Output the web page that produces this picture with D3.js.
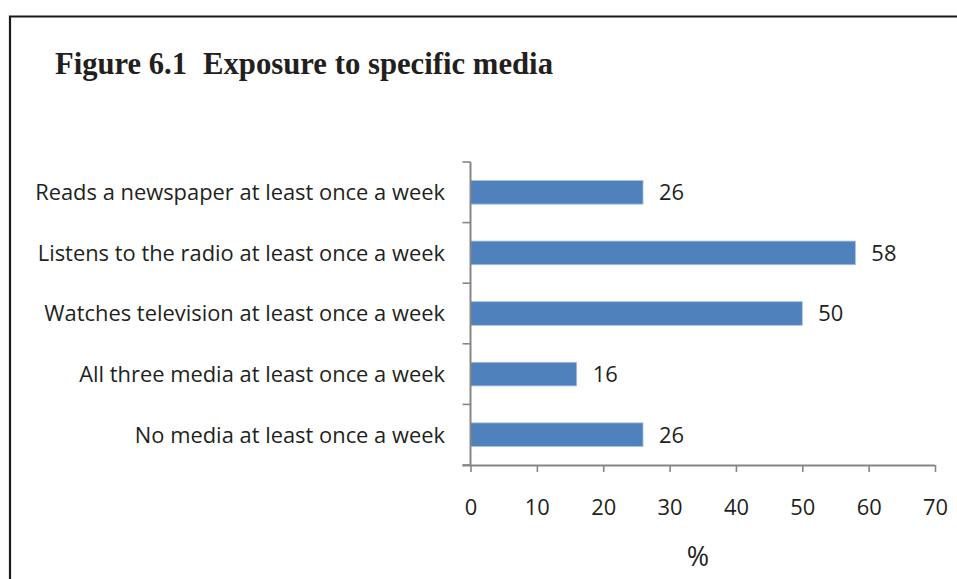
<!DOCTYPE html>
<html>
<head>
<meta charset="utf-8">
<script src="https://cdn.jsdelivr.net/npm/d3@7"></script>
<style>
  html, body { margin: 0; padding: 0; background: #fff; }
  svg { display: block; }
</style>
</head>
<body>
<svg id="chart" width="957" height="579"></svg>
<script>
// Media exposure categories (top to bottom) and share of respondents, %
const categories = [
  "Reads a newspaper at least once a week",
  "Listens to the radio at least once a week",
  "Watches television at least once a week",
  "All three media at least once a week",
  "No media at least once a week"
];
const values = [26, 58, 50, 16, 26];
const xTicks = [0, 10, 20, 30, 40, 50, 60, 70];

const svg = d3.select("#chart");
const labelFont = "'Open Sans', 'Noto Sans', sans-serif";
const labelSize = 21.9;
const textColor = "#231f20";
const axisColor = "#868686";

// Frame around the figure
svg.append("path")
  .attr("d", "M10,579 V16.5 H957")
  .attr("fill", "none")
  .attr("stroke", "#1a1a1a")
  .attr("stroke-width", 2.2);

// Title
const title = svg.append("g")
  .attr("font-family", "'Liberation Serif', 'Times New Roman', serif")
  .attr("font-weight", "bold")
  .attr("font-size", 32)
  .attr("fill", "#231f20");
title.append("text").attr("x", 55).attr("y", 74)
  .attr("textLength", 132).attr("lengthAdjust", "spacingAndGlyphs")
  .text("Figure 6.1");
title.append("text").attr("x", 203).attr("y", 74)
  .attr("textLength", 350).attr("lengthAdjust", "spacingAndGlyphs")
  .text("Exposure to specific media");

// Plot area
const plotLeft = 470.5, plotRight = 935, plotTop = 162, plotBottom = 465;

const x = d3.scaleLinear().domain([0, 70]).range([plotLeft, plotRight]);
const y = d3.scaleBand().domain(categories).range([plotTop, plotBottom])
  .paddingInner(0.61).paddingOuter(0.305);

// Bars
svg.append("g").selectAll("rect")
  .data(values)
  .join("rect")
  .attr("x", x(0))
  .attr("y", (d, i) => y(categories[i]))
  .attr("width", d => x(d) - x(0))
  .attr("height", y.bandwidth())
  .attr("fill", "#4f81bd")
  .attr("stroke", "#a7c0de")
  .attr("stroke-width", 0.8);

// Value labels
svg.append("g").selectAll("text")
  .data(values)
  .join("text")
  .attr("x", d => x(d) + 16)
  .attr("y", (d, i) => y(categories[i]) + y.bandwidth() / 2)
  .attr("dy", "0.36em")
  .attr("font-family", labelFont)
  .attr("font-size", labelSize)
  .attr("fill", textColor)
  .text(d => d);

// Category axis: boundary ticks between bands
const yAxisG = svg.append("g");
yAxisG.append("line")
  .attr("x1", plotLeft).attr("x2", plotLeft)
  .attr("y1", plotTop).attr("y2", plotBottom)
  .attr("stroke", axisColor).attr("stroke-width", 2);
const bounds = categories.map(c => y(c) - y.step() * y.paddingInner() / 2);
bounds.push(plotBottom);
bounds[0] = plotTop;
yAxisG.selectAll("line.tick")
  .data(bounds)
  .join("line")
  .attr("class", "tick")
  .attr("x1", plotLeft - 8).attr("x2", plotLeft)
  .attr("y1", d => d).attr("y2", d => d)
  .attr("stroke", axisColor).attr("stroke-width", 1.6);

yAxisG.selectAll("text")
  .data(categories)
  .join("text")
  .attr("x", 445)
  .attr("y", d => y(d) + y.bandwidth() / 2)
  .attr("dy", "0.36em")
  .attr("text-anchor", "end")
  .attr("font-family", labelFont)
  .attr("font-size", labelSize)
  .attr("fill", textColor)
  .text(d => d);

// Value axis
const xAxis = d3.axisBottom(x).tickValues(xTicks).tickSize(7).tickSizeOuter(0).tickPadding(27);
const xg = svg.append("g").attr("transform", `translate(0,${plotBottom})`).call(xAxis);
xg.select(".domain").attr("stroke", axisColor).attr("stroke-width", 2)
  .attr("d", `M${plotLeft - 8},0.5H${plotRight}`);
xg.selectAll(".tick line").attr("stroke", axisColor).attr("stroke-width", 1.6);
xg.selectAll(".tick text")
  .attr("font-family", labelFont)
  .attr("font-size", labelSize)
  .attr("fill", textColor);

// Axis title
svg.append("text")
  .attr("x", 698).attr("y", 556)
  .attr("dy", "0.36em")
  .attr("text-anchor", "middle")
  .attr("font-family", labelFont)
  .attr("font-size", 27)
  .attr("fill", textColor)
  .text("%");
</script>
</body>
</html>
